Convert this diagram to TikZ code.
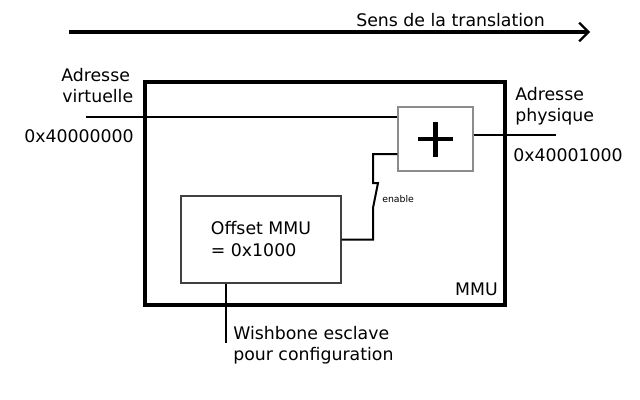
\documentclass[tikz,border=0pt]{standalone}
\usepackage{fontspec}
\setmainfont{DejaVu Sans}
\usetikzlibrary{arrows.meta,calc}
\begin{document}
\begin{tikzpicture}[x=0.75pt,y=-0.75pt,
  lbl/.style={anchor=base west,inner sep=0pt,font=\fontsize{13pt}{16.5pt}\selectfont},
  mmubox/.style={draw=black,line width=3pt,minimum width=270pt,minimum height=167.25pt,inner sep=0pt},
  plusbox/.style={draw=black!45,line width=1.1pt,fill=white,minimum width=56.25pt,minimum height=48pt,inner sep=0pt},
  offbox/.style={draw=black!75,line width=0.9pt,fill=white,minimum width=120pt,minimum height=65.25pt,align=left,font=\fontsize{13pt}{16.5pt}\selectfont},
  wire/.style={draw=black,line width=1.5pt},
  plusbar/.style={draw=black,line width=3.4pt}]
\useasboundingbox (0,0) rectangle (640,400);
% direction arrow
\coordinate (a1) at (69,32);
\coordinate (a2) at (590,32);
\draw[line width=3pt,-{Straight Barb[length=7pt,width=14pt,line width=1.6pt]}] (a1) -- (a2);
\node[lbl] (sens) at (356,26) {Sens de la translation};
% MMU
\node[mmubox] (mmu) at (325,193.5) {};
\node[lbl,anchor=base east] (mmulbl) at (498,295) {MMU};
% adder
\node[plusbox] (plus) at (435.5,139) {};
\draw[plusbar] ($(plus.center)+(-17.5,0)$) -- ($(plus.center)+(17.5,0)$);
\draw[plusbar] ($(plus.center)+(0,-17.5)$) -- ($(plus.center)+(0,17.5)$);
% offset
\node[offbox] (off) at (261,239.5) {Offset MMU\\= 0x1000};
% input
\coordinate (vin) at (86,117);
\draw[wire] (vin) -- (vin -| plus.west);
\node[lbl] (av1) at (61,81) {Adresse};
\node[lbl] (av2) at (62,102.5) {virtuelle};
\node[lbl] (av3) at (24,142) {0x40000000};
% output
\coordinate (vout) at (556,135);
\draw[wire] (vout -| plus.east) -- (vout);
\node[lbl] (ap1) at (515,100) {Adresse};
\node[lbl] (ap2) at (515,121.5) {physique};
\node[lbl] (ap3) at (513,161.5) {0x40001000};
% enable switch
\coordinate (sw1) at (373,208);
\coordinate (sw2) at (378,183);
\coordinate (sw3) at (373,183);
\coordinate (pin) at ($(plus.west)+(0,15)$);
\draw[wire,line join=miter] (off.east) -| (sw1) -- (sw2) -- (sw3) |- (pin);
\node[anchor=base west,inner sep=0pt,font=\fontsize{7pt}{8pt}\selectfont] (en) at (382,202.5) {enable};
% wishbone
\coordinate (wb) at (226,343);
\draw[wire] (off.south -| wb) -- (wb);
\node[lbl] (wb1) at (233,339) {Wishbone esclave};
\node[lbl] (wb2) at (233,360) {pour configuration};
\end{tikzpicture}
\end{document}
